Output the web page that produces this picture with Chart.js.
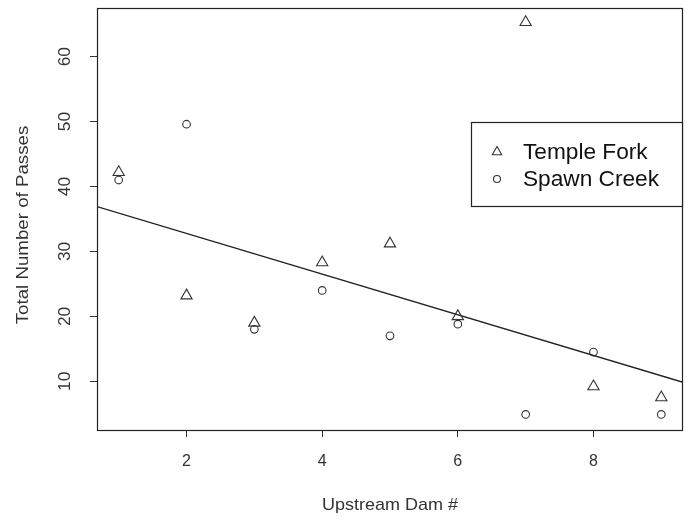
<!DOCTYPE html>
<html><head><meta charset="utf-8">
<script src="https://cdn.jsdelivr.net/npm/chart.js@4/dist/chart.umd.min.js"></script>
<style>html,body{margin:0;padding:0;background:#fff;overflow:hidden}#wrap{width:687px;height:516px}canvas{display:block}</style>
</head><body><div id="wrap"><canvas id="c" width="687" height="516"></canvas></div>
<script>
const dams = [1, 2, 3, 4, 5, 6, 7, 8, 9];
const templeFork = [42.2, 23.2, 19, 28.3, 31.2, 20, 65.3, 9.2, 7.5];
const spawnCreek = [41, 49.6, 18, 24, 17, 18.8, 4.9, 14.5, 4.9];
const fitX = [0.68, 9.32];
const fitY = [36.9, 9.85];
const xTicks = [2, 4, 6, 8];
const yTicks = [10, 20, 30, 40, 50, 60];
const seriesNames = ['Temple Fork', 'Spawn Creek'];
const xTitle = 'Upstream Dam #';
const yTitle = 'Total Number of Passes';

const FONT = "'Liberation Sans', Arial, sans-serif";
const INK = '#333';

const frameAndText = {
  id: 'frameAndText',
  afterDraw(chart) {
    const ctx = chart.ctx, a = chart.chartArea, ys = chart.scales.y;
    ctx.save();
    ctx.strokeStyle = '#222'; ctx.lineWidth = 1.2;
    ctx.strokeRect(a.left + 0.5, a.top + 0.5, a.right - a.left - 1, a.bottom - a.top);
    ctx.fillStyle = INK; ctx.font = '16px ' + FONT;
    ctx.textAlign = 'center'; ctx.textBaseline = 'middle';
    yTicks.forEach(v => {
      const py = ys.getPixelForValue(v);
      ctx.save(); ctx.translate(66, py); ctx.rotate(-Math.PI / 2); ctx.scale(1.08, 1);
      ctx.fillText(String(v), 0, 0); ctx.restore();
    });
    ctx.font = '17px ' + FONT;
    ctx.save(); ctx.translate(23, 225); ctx.rotate(-Math.PI / 2); ctx.scale(1.1, 1);
    ctx.fillText(yTitle, 0, 0); ctx.restore();
    ctx.save(); ctx.translate(390, 505); ctx.scale(1.06, 1);
    ctx.fillText(xTitle, 0, 0); ctx.restore();
    const lx = 471, ly = 122, lw = a.right - 1 - 471, lh = 84;
    ctx.fillStyle = '#fff'; ctx.fillRect(lx, ly, lw, lh);
    ctx.strokeStyle = '#222'; ctx.lineWidth = 1.2;
    ctx.strokeRect(lx + 0.5, ly + 0.5, lw, lh);
    ctx.textAlign = 'left';
    const ds = chart.data.datasets;
    [0, 1].forEach(i => {
      const cy = 152 + i * 27;
      ctx.fillStyle = 'rgba(0,0,0,0)'; ctx.strokeStyle = INK; ctx.lineWidth = 1.1;
      Chart.helpers.drawPoint(ctx, {
        pointStyle: ds[i].pointStyle, radius: i === 0 ? 5.5 : 3.5, rotation: 0,
        borderWidth: 1.1
      }, 497, cy);
      ctx.fillStyle = '#111'; ctx.font = '22px ' + FONT;
      ctx.save(); ctx.translate(523, cy + 1); ctx.scale(1.03, 1);
      ctx.fillText(seriesNames[i], 0, 0); ctx.restore();
    });
    ctx.restore();
  }
};

new Chart(document.getElementById('c'), {
  type: 'scatter',
  data: {
    datasets: [
      {
        label: seriesNames[0],
        data: dams.map((d, i) => ({ x: d, y: templeFork[i] })),
        pointStyle: 'triangle', pointRadius: 6.5,
        pointBackgroundColor: 'rgba(0,0,0,0)', pointBorderColor: INK, pointBorderWidth: 1.1
      },
      {
        label: seriesNames[1],
        data: dams.map((d, i) => ({ x: d, y: spawnCreek[i] })),
        pointStyle: 'circle', pointRadius: 3.8,
        pointBackgroundColor: 'rgba(0,0,0,0)', pointBorderColor: INK, pointBorderWidth: 1.1
      },
      {
        label: 'fit',
        data: fitX.map((x, i) => ({ x, y: fitY[i] })),
        showLine: true, pointRadius: 0, borderColor: '#222', borderWidth: 1.3, fill: false
      }
    ]
  },
  options: {
    responsive: false, animation: false,
    layout: { autoPadding: false, padding: { top: 8, right: 4, left: 0, bottom: 0 } },
    plugins: { legend: { display: false }, tooltip: { enabled: false } },
    scales: {
      x: {
        type: 'linear', min: 0.68, max: 9.32,
        afterBuildTicks: s => { s.ticks = xTicks.map(v => ({ value: v })); },
        afterFit: s => { s.height = 86; s.paddingRight = 0; },
        grid: { display: true, drawOnChartArea: false, drawTicks: true, tickLength: 7, color: INK, lineWidth: 1 },
        border: { display: false },
        ticks: { color: INK, font: { family: FONT, size: 16 }, padding: 15, maxRotation: 0 },
        title: { display: false }
      },
      y: {
        type: 'linear', min: 2.5, max: 67.5,
        afterBuildTicks: s => { s.ticks = yTicks.map(v => ({ value: v })); },
        afterFit: s => { s.width = 97; s.paddingTop = 0; },
        grid: { display: true, drawOnChartArea: false, drawTicks: true, tickLength: 7, color: INK, lineWidth: 1 },
        border: { display: false },
        ticks: { display: false }
      }
    }
  },
  plugins: [frameAndText]
});
</script></body></html>
